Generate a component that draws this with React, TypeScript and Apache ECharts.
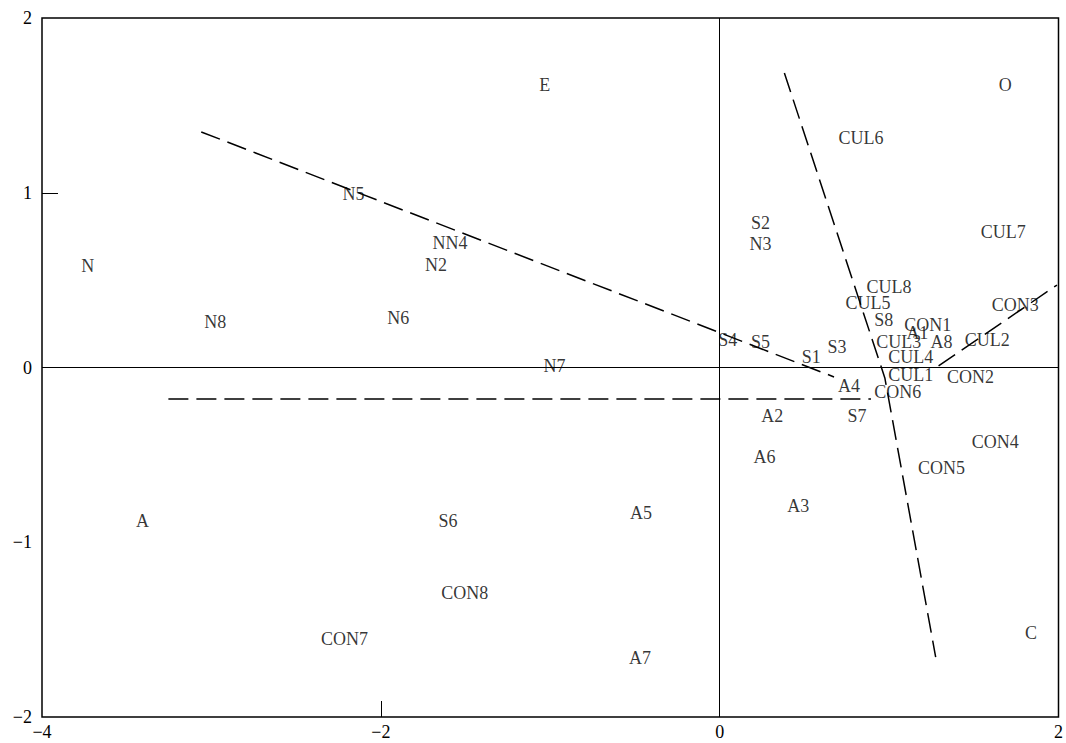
import React, { useEffect, useRef } from "react";
import * as echarts from "echarts";

const labelNames = [
  "E", "O", "N", "A", "C",
  "CUL6", "N5", "NN4", "N2", "S2", "N3", "CUL7", "N8", "N6",
  "CUL8", "CUL5", "S8", "CON1", "A1", "CON3", "CUL3", "A8", "CUL2",
  "CUL4", "CUL1", "CON2", "CON6", "A4", "S4", "S5", "S1", "S3", "N7",
  "A2", "S7", "A6", "CON4", "CON5", "S6", "A5", "A3", "CON8", "CON7", "A7",
];
const labelX = [
  -1.032, 1.686, -3.73, -3.407, 1.838,
  0.834, -2.162, -1.592, -1.674, 0.241, 0.241, 1.674, -2.978, -1.897,
  0.999, 0.875, 0.969, 1.228, 1.167, 1.745, 1.057, 1.31, 1.58,
  1.128, 1.128, 1.48, 1.051, 0.764, 0.047, 0.241, 0.54, 0.693, -0.975,
  0.311, 0.811, 0.264, 1.627, 1.31, -1.604, -0.464, 0.464, -1.504, -2.214, -0.47,
];
const labelY = [
  1.617, 1.617, 0.581, -0.878, -1.519,
  1.313, 0.993, 0.712, 0.587, 0.827, 0.707, 0.775, 0.26, 0.283,
  0.461, 0.369, 0.272, 0.243, 0.197, 0.358, 0.146, 0.146, 0.157,
  0.06, -0.043, -0.054, -0.14, -0.106, 0.157, 0.146, 0.06, 0.117, 0.009,
  -0.278, -0.278, -0.512, -0.426, -0.575, -0.878, -0.833, -0.793, -1.29, -1.554, -1.662,
];

const lineA = [[-3.06, 1.348], [0.675, -0.054]];
const lineB = [[-3.254, -0.18], [0.893, -0.18]];
const lineC = [[0.382, 1.685], [0.975, -0.06], [1.275, -1.657]];
const lineD = [[1.292, 0.009], [1.991, 0.472]];

const xTicks = [-4, -2, 0, 2];
const yTicks = [-2, -1, 0, 1, 2];

const FONT = "'Liberation Serif', 'DejaVu Serif', serif";

export default function App() {
  const ref = useRef<HTMLDivElement>(null);
  useEffect(() => {
    if (!ref.current) return;
    const chart = echarts.init(ref.current, null, { renderer: "svg" });
    const fmt = (v: number) => String(v).replace("-", "\u2212");
    const dashed = (data: number[][]) => ({
      type: "line",
      data,
      symbol: "none",
      silent: true,
      lineStyle: { color: "#000", width: 1.5, type: [20, 8] },
    });
    chart.setOption({
      animation: false,
      grid: {
        left: 42,
        right: 3,
        top: 18,
        bottom: 26,
        show: true,
        borderColor: "#000",
        borderWidth: 1.5,
        backgroundColor: "transparent",
      },
      xAxis: {
        type: "value",
        min: -4,
        max: 2,
        interval: 2,
        splitLine: { show: false },
        axisLine: { show: false, onZero: false },
        axisTick: {
          show: true,
          inside: true,
          length: 16,
          customValues: [-2],
          lineStyle: { color: "#000", width: 1 },
        },
        axisLabel: {
          customValues: xTicks,
          formatter: fmt,
          color: "#000",
          fontFamily: FONT,
          fontSize: 18,
          margin: 6,
        },
      },
      yAxis: {
        type: "value",
        min: -2,
        max: 2,
        interval: 1,
        splitLine: { show: false },
        axisLine: { show: false, onZero: false },
        axisTick: {
          show: true,
          inside: true,
          length: 16,
          customValues: [1],
          lineStyle: { color: "#000", width: 1 },
        },
        axisLabel: {
          customValues: yTicks,
          formatter: fmt,
          color: "#000",
          fontFamily: FONT,
          fontSize: 18,
          margin: 10,
        },
      },
      series: [
        {
          type: "scatter",
          symbolSize: 0,
          silent: true,
          data: labelNames.map((n, i) => ({ name: n, value: [labelX[i], labelY[i]] })),
          label: {
            show: true,
            position: "inside",
            formatter: (p: any) => p.name,
            color: "#000",
            fontFamily: FONT,
            fontSize: 18,
            align: "center",
            verticalAlign: "middle",
          },
          markLine: {
            silent: true,
            symbol: "none",
            label: { show: false },
            lineStyle: { color: "#000", width: 1, type: "solid" },
            data: [{ xAxis: 0 }, { yAxis: 0 }],
          },
          z: 5,
        },
        dashed(lineA),
        dashed(lineB),
        dashed(lineC),
        dashed(lineD),
      ],
    });
    return () => chart.dispose();
  }, []);
  return (
    <div
      ref={ref}
      style={{ position: "fixed", left: 0, top: 0, width: 1066, height: 743, background: "#fff" }}
    />
  );
}
